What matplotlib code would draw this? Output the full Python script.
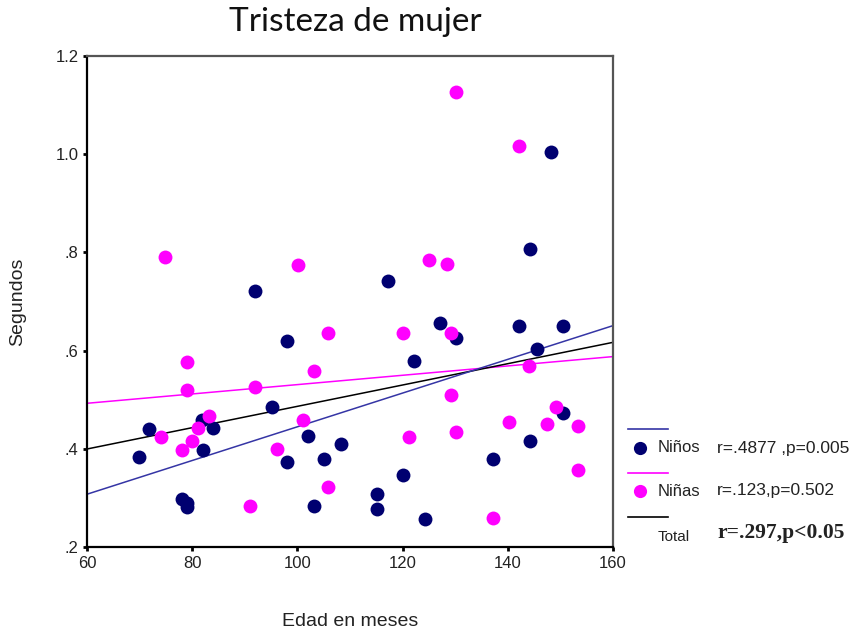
import matplotlib
matplotlib.use("Agg")
import matplotlib.pyplot as plt
from matplotlib.lines import Line2D
import numpy as np

# edad (meses) y segundos
ninos_x = [69.9, 71.8, 78.0, 79.0, 79.1, 81.8, 82.0, 84.0, 91.9, 95.1, 98.1, 98.1,
           102.1, 103.1, 105.1, 108.2, 117.2, 115.1, 115.1, 120.1, 122.2, 124.3,
           127.1, 130.2, 137.1, 142.1, 144.2, 144.2, 145.5, 148.3, 150.4, 150.4]
ninos_y = [0.384, 0.441, 0.298, 0.290, 0.281, 0.459, 0.397, 0.443, 0.721, 0.485, 0.620, 0.373,
           0.427, 0.284, 0.380, 0.410, 0.741, 0.308, 0.277, 0.347, 0.580, 0.257,
           0.657, 0.626, 0.380, 0.651, 0.807, 0.417, 0.603, 1.004, 0.651, 0.474]

ninas_x = [74.0, 74.9, 78.0, 79.0, 79.1, 80.0, 81.1, 83.1, 91.0, 91.9, 96.1, 100.1,
           101.0, 103.1, 105.9, 105.9, 120.1, 121.2, 125.1, 128.4, 129.2, 129.2,
           130.1, 130.1, 137.1, 140.3, 142.1, 144.1, 147.4, 149.2, 153.3, 153.3]
ninas_y = [0.424, 0.790, 0.397, 0.578, 0.521, 0.417, 0.443, 0.468, 0.285, 0.527, 0.400, 0.774,
           0.458, 0.559, 0.637, 0.323, 0.635, 0.425, 0.784, 0.777, 0.635, 0.510,
           0.434, 1.127, 0.260, 0.454, 1.016, 0.569, 0.450, 0.485, 0.447, 0.357]

# rectas de regresion (valor en x=60 y x=160)
fit_x = [60, 160]
fit_ninos = [0.308, 0.651]
fit_ninas = [0.493, 0.588]
fit_total = [0.400, 0.617]

xticks = [60, 80, 100, 120, 140, 160]
yticks = [0.2, 0.4, 0.6, 0.8, 1.0, 1.2]
ylabels = [".2", ".4", ".6", ".8", "1.0", "1.2"]

navy = "#000070"
mag = "#ff00ff"
blue_line = "#3535a5"

W, H = 868, 637
fig = plt.figure(figsize=(W / 100, H / 100), dpi=100)
ax = fig.add_axes([87 / W, 1 - 547.3 / H, (613 - 87) / W, (547.3 - 55.8) / H])

ax.plot(fit_x, fit_ninas, color=mag, lw=1.1, zorder=2)
ax.plot(fit_x, fit_total, color="black", lw=1.1, zorder=2)
ax.plot(fit_x, fit_ninos, color=blue_line, lw=1.1, zorder=2)
ax.scatter(ninos_x, ninos_y, s=100, color=navy, linewidths=0, zorder=3)
ax.scatter(ninas_x, ninas_y, s=100, color=mag, linewidths=0, zorder=4)

ax.set_xlim(60, 160)
ax.set_ylim(0.2, 1.2)
ax.set_xticks(xticks)
ax.set_xticklabels([str(t) for t in xticks])
ax.set_yticks(yticks)
ax.set_yticklabels(ylabels)
ax.tick_params(direction="out", length=3, width=2, color="black",
               labelsize=12, labelcolor="#222222", pad=3)
for lab in ax.get_xticklabels() + ax.get_yticklabels():
    lab.set_family("Liberation Sans")

for s in ["left", "bottom"]:
    ax.spines[s].set_color("black")
    ax.spines[s].set_linewidth(1.6)
for s in ["top", "right"]:
    ax.spines[s].set_color("#555555")
    ax.spines[s].set_linewidth(1.6)

fig.text(355 / W, 1 - 22 / H, "Tristeza de mujer", ha="center", va="center",
         fontsize=24, family="Lato", color="#111111")
fig.text(350 / W, 1 - 622 / H, "Edad en meses", ha="center", va="center",
         fontsize=14, family="Liberation Sans", color="#222222")
fig.text(18 / W, 1 - 302 / H, "Segundos", ha="center", va="center", rotation=90,
         fontsize=14, family="Liberation Sans", color="#222222")

# leyenda a la derecha
def fx(px):
    return px / W

def fy(py):
    return 1 - py / H

legend_rows = [
    (429, blue_line, navy, 448, "Niños", "r=.4877 ,p=0.005", False),
    (473, mag, mag, 491, "Niñas", "r=.123,p=0.502", False),
    (517, "black", None, 535, "Total", "r=.297,p<0.05", True),
]
for ly, lc, mc, ty, name, stat, bold in legend_rows:
    fig.add_artist(Line2D([fx(628), fx(668)], [fy(ly), fy(ly)], color=lc, lw=1.2,
                          transform=fig.transFigure))
    if mc is not None:
        fig.add_artist(Line2D([fx(640)], [fy(ty)], marker="o", markersize=9.5,
                              markeredgewidth=0, color=mc, transform=fig.transFigure))
    fig.text(fx(658), fy(ty + (2 if bold else 0)), name, ha="left", va="center",
             fontsize=11 if bold else 12, family="Liberation Sans", color="#222222")
    if bold:
        fig.text(fx(717), fy(ty - 2), stat, ha="left", va="center", fontsize=15.5,
                 family="Liberation Serif", weight="bold", color="#222222")
    else:
        fig.text(fx(717), fy(ty), stat, ha="left", va="center", fontsize=12.5,
                 family="Liberation Sans", color="#222222")

fig.savefig("out.png", dpi=100)
